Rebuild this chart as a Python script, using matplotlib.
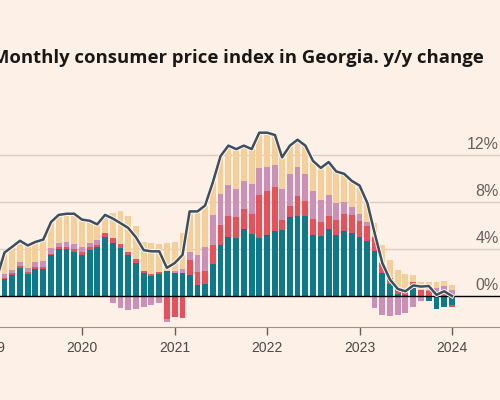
import matplotlib
matplotlib.use('Agg')
import matplotlib.pyplot as plt
import matplotlib.dates as mdates
import matplotlib.patheffects as pe
import matplotlib.transforms as mtransforms
import numpy as np
import pandas as pd

# months Feb 2019 .. Jan 2024
months = pd.date_range('2019-02-01', '2024-01-01', freq='MS')

# contributions, percentage points (positive parts)
teal = [0.9, 1.42, 1.76, 2.41, 1.9, 2.27, 2.33, 3.45, 3.97, 4.0, 3.77,
        3.52, 3.9, 4.14, 5.0, 4.54, 4.11, 3.49, 2.84, 1.93, 1.73, 1.9, 2.16,
        1.99, 1.96, 1.8, 0.9, 1.05, 2.75, 4.38, 5.05, 4.96, 5.7, 5.3, 4.96,
        5.22, 5.56, 5.65, 6.7, 6.84, 6.84, 5.19, 5.1, 5.7, 5.19, 5.53, 5.33,
        5.0, 4.68, 3.83, 1.99, 1.02, 0.2, 0.1, 0.65, 0.0, 0.0, 0.0, 0.0,
        0.0]
red = [0.1, 0.14, 0.17, 0.14, 0.14, 0.17, 0.14, 0.14, 0.17, 0.2, 0.2,
       0.2, 0.25, 0.2, 0.4, 0.42, 0.32, 0.28, 0.28, 0.17, 0.11, 0.1, 0.0,
       0.0, 0.0, 1.25, 1.1, 1.05, 1.6, 1.65, 1.72, 1.74, 1.7, 1.7, 3.64,
       3.68, 3.74, 0.82, 0.99, 1.66, 1.26, 1.33, 1.23, 1.14, 1.28, 1.45, 1.57,
       1.38, 1.28, 1.17, 0.8, 0.48, 0.45, 0.45, 0.57, 0.5, 0.45, 0.0, 0.15,
       0.0]
pink = [0.2, 0.28, 0.28, 0.37, 0.31, 0.48, 0.53, 0.5, 0.4, 0.42, 0.46,
        0.45, 0.35, 0.45, 0.0, 0.0, 0.0, 0.0, 0.0, 0.0, 0.0, 0.0, 0.0,
        0.17, 0.32, 0.73, 1.5, 2.1, 2.55, 2.65, 2.68, 2.4, 2.4, 2.5, 2.27,
        2.1, 1.85, 2.63, 2.71, 2.45, 2.3, 2.42, 1.84, 1.73, 1.42, 1.02, 0.65,
        0.57, 0.31, 0.0, 0.0, 0.0, 0.0, 0.0, 0.0, 0.0, 0.1, 0.65, 0.7,
        0.51]
tan = [0.5, 1.86, 1.99, 1.78, 1.95, 1.68, 1.8, 2.21, 2.36, 2.38, 2.57,
       2.33, 1.9, 1.31, 1.5, 2.14, 2.77, 3.03, 2.8, 2.5, 2.66, 2.45, 2.34,
       2.44, 3.1, 3.42, 3.7, 3.5, 2.8, 3.22, 3.35, 3.4, 3.0, 3.0, 3.03,
       2.9, 2.55, 2.7, 2.4, 2.35, 2.4, 2.56, 2.73, 2.83, 2.71, 2.4, 2.25,
       2.45, 1.63, 1.24, 1.55, 1.56, 1.55, 1.3, 0.57, 0.65, 0.67, 0.5, 0.43,
       0.43]

# negative parts
teal_neg = [0.0] * 56 + [-0.43, -1.13, -0.96, -0.79]
red_neg = [0.0] * 22 + [-1.99, -1.82, -1.9] + [0.0] * 34 + [-0.17]
pink_neg = ([0.0] * 15 + [-0.62, -1.05, -1.19, -1.13, -0.9, -0.77, -0.62, -0.25]
            + [0.0] * 26 + [-1.05, -1.65, -1.7, -1.6, -1.48, -0.96, -0.45]
            + [0.0] * 4)

# headline CPI, y/y %
cpi = [1.7, 3.7, 4.2, 4.7, 4.3, 4.6, 4.8, 6.3, 6.9, 7.0, 7.0,
       6.5, 6.4, 6.1, 6.9, 6.6, 6.2, 5.8, 5.0, 3.9, 3.8, 3.8, 2.4,
       2.8, 3.5, 7.2, 7.2, 7.7, 9.7, 11.9, 12.8, 12.5, 12.8, 12.5, 13.9,
       13.9, 13.7, 11.8, 12.8, 13.3, 12.8, 11.5, 10.9, 11.4, 10.6, 10.4, 9.8,
       9.4, 7.9, 5.4, 2.8, 1.4, 0.6, 0.4, 0.9, 0.8, 0.85, 0.1, 0.4,
       0.0]

yticks = [0, 4, 8, 12]
years = [2019, 2020, 2021, 2022, 2023, 2024]

bg = '#fdf0e6'
colors = ['#0d7a8c', '#e8505b', '#cc8fb5', '#f5cf9a']

fig = plt.figure(figsize=(5, 4), dpi=100, facecolor=bg)
ax = fig.add_axes([-0.06, 0.1825, 1.12, 0.5475])
ax.set_facecolor(bg)

x = mdates.date2num(months)
w = 23

bottom = np.zeros(len(x))
for vals, c in zip([teal, red, pink, tan], colors):
    ax.bar(x, vals, w, bottom=bottom, color=c, linewidth=0, zorder=2)
    bottom += np.array(vals)

bottom = np.zeros(len(x))
for vals, c in zip([teal_neg, red_neg, pink_neg], colors[:3]):
    ax.bar(x, vals, w, bottom=bottom, color=c, linewidth=0, zorder=2)
    bottom += np.array(vals)

ax.plot(x, cpi, color='#3a4f5f', lw=1.8, zorder=4,
        path_effects=[pe.Stroke(linewidth=3.2, foreground='#fff6ee'), pe.Normal()])

# grid and zero line
for v in yticks[1:]:
    ax.axhline(v, color='#d9cfc6', lw=1, zorder=1)
ax.axhline(0, color='black', lw=1, zorder=3)

# right side labels sitting above gridlines
trans = mtransforms.blended_transform_factory(fig.transFigure, ax.transData)
for v in yticks:
    ax.text(0.998, v + 0.25, f'{v}%', transform=trans, ha='right', va='bottom',
            fontsize=11.5, color='#66605c', family='Liberation Sans')

ax.set_yticks([])
ax.set_ylim(-2.64, 16)

jan = [mdates.date2num(pd.Timestamp(f'{y}-01-01')) for y in years]
ax.set_xticks(jan)
ax.set_xticklabels([str(y) for y in years], fontsize=10, color='#4d4845',
                   family='Liberation Sans')
ax.tick_params(axis='x', direction='out', length=6, width=1, color='#66605c', pad=4)
ref = mdates.date2num(pd.Timestamp('2020-01-01'))
ax.set_xlim(ref - 442.2, ref + 1461 + 308)

for s in ['top', 'left', 'right']:
    ax.spines[s].set_visible(False)
ax.spines['bottom'].set_color('#9a928b')

fig.text(-0.016, 1 - 58 / 400, 'Monthly consumer price index in Georgia. y/y change',
         fontsize=13.3, fontweight='bold', family='Open Sans', color='#1a1817',
         ha='left', va='center')

fig.savefig('out.png', dpi=100, facecolor=bg)
